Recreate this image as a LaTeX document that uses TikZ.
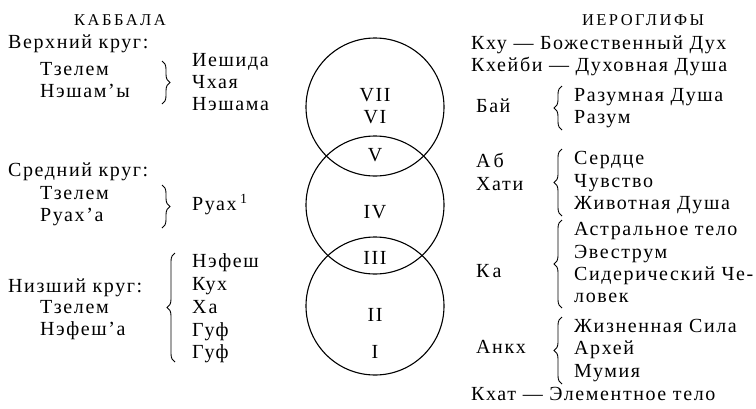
\documentclass[tikz,border=0pt]{standalone}
\usepackage{fontspec}
\setmainfont{Liberation Serif}[LetterSpace=8]
\newfontfamily\hdrfont{Liberation Serif}[LetterSpace=15]
\usetikzlibrary{decorations.pathreplacing}
\begin{document}
\begin{tikzpicture}[x=1pt,y=-1pt,
  txt/.style={font=\fontsize{20}{22}\selectfont, inner sep=0pt, anchor=west, text height=13.5pt, text depth=4pt},
  hdr/.style={font=\hdrfont\fontsize{16.5}{18}\selectfont, inner sep=0pt, text height=11pt, text depth=0pt},
  rom/.style={font=\fontsize{20}{22}\selectfont, inner sep=0pt, text height=13pt, text depth=0pt},
  circ/.style={draw, circle, line width=1.1pt, minimum size=138pt, inner sep=0pt},
  br/.style={decorate, decoration={brace, amplitude=8pt}, line width=0.9pt}]
\useasboundingbox (0,0) rectangle (756,408);

% ---------- left column ----------
\node[hdr] (kab) at (120,20) {КАББАЛА};
\node[txt] (up) at (8,44) {Верхний круг:};
\node[txt] (up1) at (40,71) {Тзелем};
\node[txt] (up2) at (40,93) {Нэшам’ы};
\draw[br] (162,61) -- (162,104);
\node[txt] (ie) at (192,62) {Иешида};
\node[txt] (ch) at (192,84) {Чхая};
\node[txt] (ne) at (192,106) {Нэшама};

\node[txt] (mid) at (8,172) {Средний круг:};
\node[txt] (mid1) at (40,195) {Тзелем};
\node[txt] (mid2) at (40,217) {Руах’а};
\draw[br] (162,185) -- (162,228);
\node[txt] (ru) at (192,206) {Руах\,\textsuperscript{1}};

\node[txt] (low) at (8,288) {Низший круг:};
\node[txt] (low1) at (40,309) {Тзелем};
\node[txt] (low2) at (40,331) {Нэфеш’а};
\draw[br] (175,362) -- (175,253);
\node[txt] (nf) at (192,263) {Нэфеш};
\node[txt] (ku) at (192,286) {Кух};
\node[txt] (ha) at (192,309) {Х\kern2pt а};
\node[txt] (gu1) at (192,332) {Гуф};
\node[txt] (gu2) at (192,354) {Гуф};

% ---------- circles ----------
\node[circ] (c1) at (375,107) {};
\node[circ] (c2) at (375,205) {};
\node[circ] (c3) at (375,306) {};
\node[rom] (r7) at (375,95) {VII};
\node[rom] (r6) at (375,117) {VI};
\node[rom] (r5) at (375,155) {V};
\node[rom] (r4) at (375,212) {IV};
\node[rom] (r3) at (375,258) {III};
\node[rom] (r2) at (375,315) {II};
\node[rom] (r1) at (375,352) {I};

% ---------- right column ----------
\node[hdr] (ier) at (643,20) {ИЕРОГЛИФЫ};
\node[txt] (khu) at (471,45) {Кху — Божественный Дух};
\node[txt] (khe) at (471,67) {Кхейби — Духовная Душа};

\node[txt] (bai) at (476,108) {Бай};
\draw[br] (562,130) -- (562,86);
\node[txt] (rd) at (574,97) {Разумная Душа};
\node[txt] (rz) at (574,119) {Разум};

\node[txt] (ab) at (476,163) {А\kern3pt б};
\node[txt] (hat) at (476,186) {Хати};
\draw[br] (562,216) -- (562,149);
\node[txt] (se) at (574,160) {Сердце};
\node[txt] (chu) at (574,183) {Чувство};
\node[txt] (zhd) at (574,205) {Животная Душа};

\node[txt] (ka) at (476,273) {К\kern3pt а};
\draw[br] (562,308) -- (562,220);
\node[txt] (ast) at (574,231) {Астральное тело};
\node[txt] (eve) at (574,254) {Эвеструм};
\node[txt] (sid) at (574,276) {Сидерический Че-};
\node[txt] (lov) at (574,298) {ловек};

\node[txt] (ankh) at (476,349) {Анкх};
\draw[br] (562,384) -- (562,317);
\node[txt] (zhs) at (574,328) {Жизненная Сила};
\node[txt] (arh) at (574,350) {Архей};
\node[txt] (mum) at (574,373) {Мумия};

\node[txt] (khat) at (471,396) {Кхат — Элементное тело};
\end{tikzpicture}
\end{document}
